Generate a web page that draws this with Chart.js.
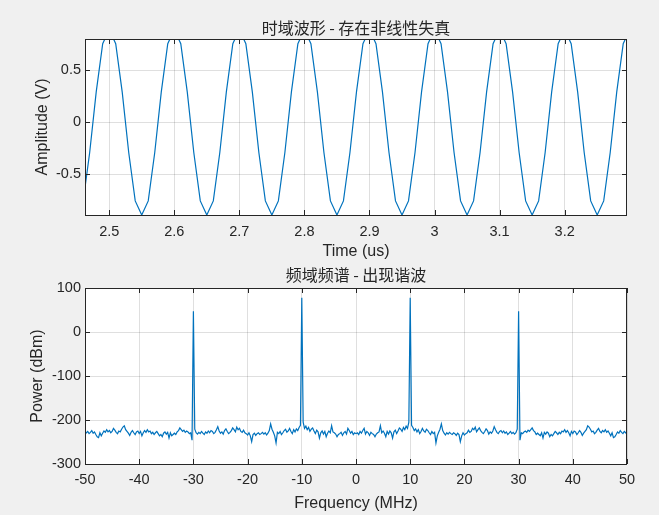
<!DOCTYPE html>
<html>
<head>
<meta charset="utf-8">
<script src="https://cdn.jsdelivr.net/npm/chart.js@4/dist/chart.umd.min.js"></script>
<style>
  html, body { margin: 0; padding: 0; background: #f0f0f0; }
  #wrap { position: relative; width: 659px; height: 515px; }
  #topBox { position: absolute; left: 0; top: 0; width: 659px; height: 262px; }
  #botBox { position: absolute; left: 0; top: 262px; width: 659px; height: 253px; }
</style>
</head>
<body>
<div id="wrap">
  <div id="topBox"><canvas id="timeChart" width="659" height="262"></canvas></div>
  <div id="botBox"><canvas id="specChart" width="659" height="253"></canvas></div>
</div>
<script>
/* ==========================================================
   DATA
========================================================== */

// time domain, sampled at 100 MHz (0.01 us)
const timeStart = 2.46;
const timeStep = 0.01;
const amplitude = [
  -0.755, -0.29, 0.29, 0.755,
  0.89, 0.755, 0.29, -0.29, -0.755, -0.89, -0.755, -0.29, 0.29, 0.755,
  0.89, 0.755, 0.29, -0.29, -0.755, -0.89, -0.755, -0.29, 0.29, 0.755,
  0.89, 0.755, 0.29, -0.29, -0.755, -0.89, -0.755, -0.29, 0.29, 0.755,
  0.89, 0.755, 0.29, -0.29, -0.755, -0.89, -0.755, -0.29, 0.29, 0.755,
  0.89, 0.755, 0.29, -0.29, -0.755, -0.89, -0.755, -0.29, 0.29, 0.755,
  0.89, 0.755, 0.29, -0.29, -0.755, -0.89, -0.755, -0.29, 0.29, 0.755,
  0.89, 0.755, 0.29, -0.29, -0.755, -0.89, -0.755, -0.29, 0.29, 0.755,
  0.89, 0.755, 0.29, -0.29, -0.755, -0.89, -0.755, -0.29, 0.29, 0.755,
  0.89
];
const timeTicks = [2.5, 2.6, 2.7, 2.8, 2.9, 3, 3.1, 3.2];
const timeTickLabels = ["2.5", "2.6", "2.7", "2.8", "2.9", "3", "3.1", "3.2"];
const ampTicks = [-0.5, 0, 0.5];
const ampTickLabels = ["-0.5", "0", "0.5"];

// spectrum, 0.25 MHz bins from -50 MHz to 50 MHz
const freqStart = -50;
const freqStep = 0.25;
// -50 ... -0.25 MHz, then 0 MHz
const powerNeg = [
  -232, -229, -226, -231,  -228, -224, -230, -227,  -233, -238, -240, -229,
  -236, -230, -225, -228,  -222, -227, -224, -229,  -226, -219, -223, -228,
  -231, -225, -227, -221,  -216, -213, -222, -226,  -230, -235, -228, -224,
  -229, -233, -227, -225,  -231, -226, -236, -229,  -224, -228, -222, -227,
  -225, -231, -228, -233,  -229, -226, -231, -236,  -233, -238, -230, -227,
  -232, -228, -241, -229,  -236, -233, -230, -233,  -227, -224, -218, -222,
  -226, -223, -228, -225,  -227, -231, -229, -246,  47, -221, -229, -232,
  -228, -231, -226, -230,  -233, -227, -230, -225,  -229, -224, -226, -231,
  -228, -222, -215, -225,  -230, -227, -232, -224,  -220, -226, -231, -228,
  -224, -218, -222, -227,  -216, -222, -219, -226,  -228, -223, -229, -231,
  -234, -229, -236, -249,  -233, -230, -235, -231,  -229, -233, -231, -228,
  -232, -229, -234, -230,  -224, -209, -221, -228,  -236, -252, -228, -231,
  -226, -233, -229, -224,  -221, -228, -225, -219,  -226, -231, -222, -227,
  -220, -224, -217, -212,  78, -205, -219, -214,  -222, -217, -226, -221,
  -218, -225, -231, -223,  -227, -241, -229, -225,  -232, -226, -238, -230,
  -225, -229, -213, -227,  -229, -232, -238, -233,  -231, -228, -235, -229,
  -226, -232, -219, -224,  -230, -226, -233, -229,
  -231
];
// 0.25 ... 50 MHz
const powerPos = [
  -229, -233, -226, -230,  -224, -219, -232, -226,  -229, -235, -228, -231,
  -233, -238, -232, -229,  -227, -213, -229, -225,  -230, -238, -226, -232,
  -225, -229, -241, -227,  -223, -231, -225, -218,  -221, -226, -217, -222,
  -214, -219, -205, 78,    -212, -217, -224, -220,  -227, -222, -231, -226,
  -219, -225, -228, -221,  -224, -229, -233, -226,  -231, -228, -252, -236,
  -228, -221, -209, -224,  -230, -234, -229, -232,  -228, -231, -233, -229,
  -231, -235, -230, -233,  -249, -236, -229, -234,  -231, -229, -223, -228,
  -226, -219, -222, -216,  -227, -222, -218, -224,  -228, -231, -226, -220,
  -224, -232, -227, -230,  -225, -215, -222, -228,  -231, -226, -224, -229,
  -225, -230, -227, -233,  -230, -226, -231, -228,  -232, -229, -221, 47,
  -246, -229, -231, -227,  -225, -228, -223, -226,  -222, -218, -224, -227,
  -233, -230, -233, -236,  -229, -241, -228, -232,  -227, -230, -238, -233,
  -236, -231, -226, -229,  -233, -228, -231, -225,  -227, -222, -228, -224,
  -229, -236, -226, -231,  -225, -227, -233, -229,  -224, -228, -235, -230,
  -226, -222, -213, -216,  -221, -227, -225, -231,  -228, -223, -219, -226,
  -229, -224, -227, -222,  -228, -225, -230, -236,  -229, -240, -238, -233,
  -227, -230, -224, -228,  -231, -226, -229, -232
];
const freqTicks = [-50, -40, -30, -20, -10, 0, 10, 20, 30, 40, 50];
const freqTickLabels = ["-50", "-40", "-30", "-20", "-10", "0", "10", "20", "30", "40", "50"];
const powerTicks = [-300, -200, -100, 0, 100];
const powerTickLabels = ["-300", "-200", "-100", "0", "100"];

/* ==========================================================
   MATLAB LOOK PLUGIN (white axes, box, inward ticks)
========================================================== */

const LINE_BLUE = "#0072bd";
const AXIS_DARK = "#262626";
const GRID_COLOR = "rgba(38,38,38,0.15)";
const LATIN = "'Liberation Sans', Arial, sans-serif";
const CJK = "'Noto Sans CJK SC', 'Noto Sans', sans-serif";

const matlabAxes = {
  id: "matlabAxes",
  beforeDraw(chart) {
    const { ctx, chartArea: { left, top, right, bottom } } = chart;
    ctx.save();
    ctx.fillStyle = "#ffffff";
    ctx.fillRect(left, top, right - left, bottom - top);
    ctx.restore();
  },
  afterDraw(chart) {
    const { ctx, chartArea: { left, top, right, bottom }, scales: { x, y } } = chart;
    const len = 5;
    ctx.save();
    ctx.strokeStyle = AXIS_DARK;
    ctx.lineWidth = 1;
    ctx.beginPath();
    x.ticks.forEach(t => {
      const px = Math.round(x.getPixelForValue(t.value)) + 0.5;
      ctx.moveTo(px, bottom); ctx.lineTo(px, bottom - len);
      ctx.moveTo(px, top); ctx.lineTo(px, top + len);
    });
    y.ticks.forEach(t => {
      const py = Math.round(y.getPixelForValue(t.value)) + 0.5;
      ctx.moveTo(left, py); ctx.lineTo(left + len, py);
      ctx.moveTo(right, py); ctx.lineTo(right - len, py);
    });
    ctx.stroke();
    ctx.strokeRect(Math.round(left) + 0.5, Math.round(top) + 0.5,
      Math.round(right - left) - 1, Math.round(bottom - top));
    ctx.restore();
  }
};

Chart.register(matlabAxes);

/* ==========================================================
   CHART BUILDER
========================================================== */

function axisOptions(cfg) {
  return {
    type: "linear",
    position: cfg.position,
    min: cfg.min,
    max: cfg.max,
    afterBuildTicks: scale => {
      scale.ticks = cfg.ticks.map(v => ({ value: v }));
    },
    afterFit: scale => {
      if (cfg.position === "left") scale.width = cfg.size;
      else scale.height = cfg.size;
    },
    ticks: {
      autoSkip: false,
      maxRotation: 0,
      padding: cfg.tickPad,
      color: AXIS_DARK,
      font: { family: LATIN, size: 14.5 },
      callback: (value, index) => cfg.labels[index]
    },
    grid: {
      color: GRID_COLOR,
      lineWidth: 1,
      drawTicks: false
    },
    border: { display: false },
    title: {
      display: true,
      text: cfg.title,
      color: AXIS_DARK,
      font: { family: LATIN, size: 16 },
      padding: cfg.titlePad
    }
  };
}

function renderChart(canvasId, cfg) {
  const canvas = document.getElementById(canvasId);
  return new Chart(canvas, {
    type: "line",
    data: {
      datasets: [{
        data: cfg.points,
        borderColor: LINE_BLUE,
        borderWidth: 1.2,
        pointRadius: 0,
        tension: 0,
        fill: false
      }]
    },
    options: {
      responsive: false,
      animation: false,
      devicePixelRatio: 1,
      layout: { padding: { left: 0, right: 32, top: 0, bottom: 0 } },
      plugins: {
        legend: { display: false },
        tooltip: { enabled: false },
        title: {
          display: true,
          fullSize: false,
          text: cfg.title,
          color: AXIS_DARK,
          font: { family: CJK, size: 16, weight: "normal", lineHeight: 1.2 },
          padding: cfg.titlePad
        }
      },
      scales: {
        x: axisOptions(cfg.x),
        y: axisOptions(cfg.y)
      }
    }
  });
}

const timePoints = amplitude.map((v, i) => ({
  x: +(timeStart + i * timeStep).toFixed(2),
  y: v
}));

const power = powerNeg.concat(powerPos);
const specPoints = power.map((v, i) => ({
  x: freqStart + i * freqStep,
  y: v
}));

renderChart("timeChart", {
  points: timePoints,
  title: "时域波形 - 存在非线性失真",
  titlePad: { top: 18.4, bottom: 1.4 },
  x: {
    position: "bottom", min: 2.4628, max: 3.2958, size: 47,
    ticks: timeTicks, labels: timeTickLabels, tickPad: 8,
    title: "Time (us)", titlePad: { top: 0, bottom: 1 }
  },
  y: {
    position: "left", min: -0.89, max: 0.8, size: 85,
    ticks: ampTicks, labels: ampTickLabels, tickPad: 4,
    title: "Amplitude (V)", titlePad: { top: 33, bottom: 0 }
  }
});

renderChart("specChart", {
  points: specPoints,
  title: "频域频谱 - 出现谐波",
  titlePad: { top: 3.4, bottom: 3.4 },
  x: {
    position: "bottom", min: -50, max: 50, size: 51,
    ticks: freqTicks, labels: freqTickLabels, tickPad: 7,
    title: "Frequency (MHz)", titlePad: { top: 0, bottom: 2 }
  },
  y: {
    position: "left", min: -300, max: 100, size: 85,
    ticks: powerTicks, labels: powerTickLabels, tickPad: 4,
    title: "Power (dBm)", titlePad: { top: 28, bottom: 0 }
  }
});
</script>
</body>
</html>
